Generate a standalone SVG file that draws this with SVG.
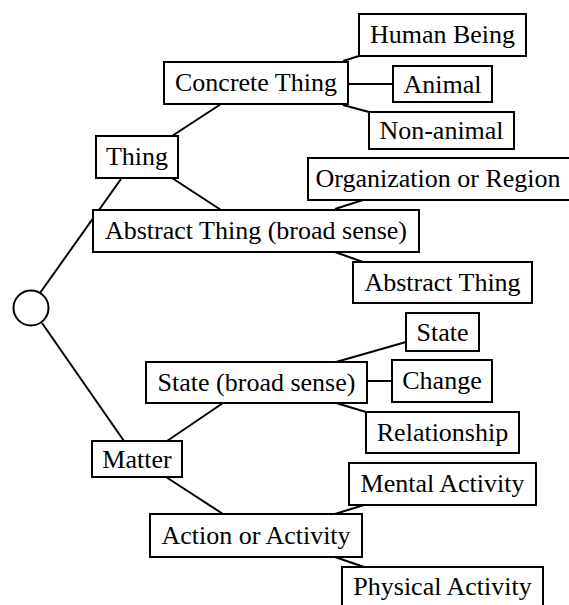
<svg xmlns="http://www.w3.org/2000/svg" width="569" height="605" viewBox="0 0 569 605">
<style>
.b{fill:#fff;stroke:#000;stroke-width:2}
.t{font-size:26px;fill:#000;text-anchor:middle}
.c line{stroke:#000;stroke-width:2}
</style>
<rect width="569" height="605" fill="#fff"/>
<g class="c" id="connectors">
<line x1="40" y1="293" x2="121" y2="179"/>
<line x1="42" y1="323" x2="124" y2="441"/>
<line x1="172" y1="136" x2="221" y2="104"/>
<line x1="172" y1="178" x2="221" y2="210"/>
<line x1="343" y1="61" x2="359" y2="56"/>
<line x1="348" y1="84" x2="393" y2="84"/>
<line x1="343" y1="105" x2="369" y2="112"/>
<line x1="335" y1="209" x2="363" y2="200"/>
<line x1="335" y1="252" x2="363" y2="262"/>
<line x1="167" y1="441" x2="223" y2="403"/>
<line x1="166" y1="477" x2="223" y2="514"/>
<line x1="336" y1="362" x2="406" y2="342"/>
<line x1="367" y1="381" x2="392" y2="381"/>
<line x1="336" y1="403" x2="366" y2="412"/>
<line x1="335" y1="514" x2="364" y2="505"/>
<line x1="335" y1="557" x2="364" y2="567"/>
</g>
<g font-family="Liberation Serif, Times New Roman, DejaVu Serif, serif">
<g id="root"><circle cx="31" cy="308" r="17.5" class="b"/></g>
<g id="thing"><rect class="b" x="96" y="136" width="82" height="42"/><text class="t" x="137" y="165">Thing</text></g>
<g id="concrete"><rect class="b" x="164" y="62" width="184" height="42"/><text class="t" x="256" y="91">Concrete Thing</text></g>
<g id="abstract-broad"><rect class="b" x="93" y="210" width="326" height="42"/><text class="t" x="256" y="239">Abstract Thing (broad sense)</text></g>
<g id="human"><rect class="b" x="359" y="14" width="167" height="42"/><text class="t" x="442.5" y="43">Human Being</text></g>
<g id="animal"><rect class="b" x="393" y="66" width="99" height="36"/><text class="t" x="442.5" y="93">Animal</text></g>
<g id="nonanimal"><rect class="b" x="369" y="112" width="145" height="37"/><text class="t" x="441.5" y="139">Non-animal</text></g>
<g id="org"><rect class="b" x="308" y="158" width="262" height="42"/><text class="t" x="438" y="187">Organization or Region</text></g>
<g id="abstract-thing"><rect class="b" x="353" y="262" width="179" height="41"/><text class="t" x="442.5" y="291">Abstract Thing</text></g>
<g id="matter"><rect class="b" x="92" y="441" width="90" height="36"/><text class="t" x="137" y="468">Matter</text></g>
<g id="state-broad"><rect class="b" x="146" y="362" width="221" height="41"/><text class="t" x="256.5" y="391">State (broad sense)</text></g>
<g id="state"><rect class="b" x="406" y="313" width="73" height="38"/><text class="t" x="442.5" y="341">State</text></g>
<g id="change"><rect class="b" x="392" y="360" width="100" height="42"/><text class="t" x="442" y="389">Change</text></g>
<g id="relationship"><rect class="b" x="366" y="412" width="153" height="41"/><text class="t" x="442.5" y="441">Relationship</text></g>
<g id="action"><rect class="b" x="150" y="514" width="212" height="43"/><text class="t" x="256" y="544">Action or Activity</text></g>
<g id="mental"><rect class="b" x="349" y="463" width="187" height="42"/><text class="t" x="442.5" y="492">Mental Activity</text></g>
<g id="physical"><rect class="b" x="342" y="567" width="201" height="42"/><text class="t" x="442.5" y="595">Physical Activity</text></g>
</g>
</svg>
